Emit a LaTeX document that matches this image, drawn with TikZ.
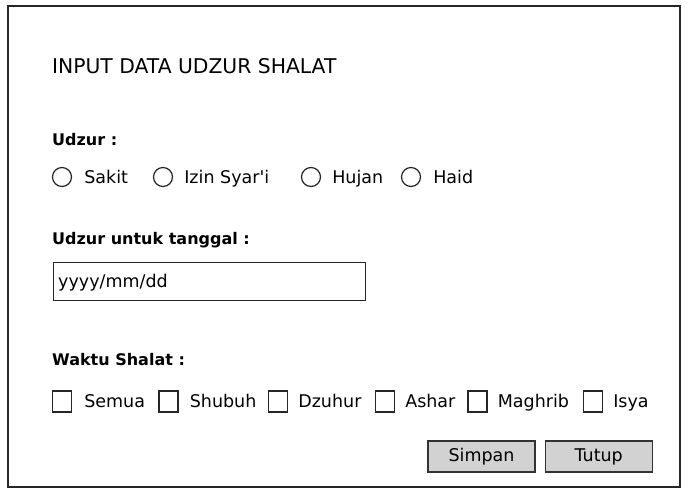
\documentclass[tikz,border=0pt]{standalone}
\usepackage{fontspec}
\setmainfont{DejaVu Sans}[Ligatures=TeXOff]
\usetikzlibrary{positioning}

\tikzset{
  frame/.style={draw=black!85, line width=1.5pt},
  judulteks/.style={anchor=west, inner sep=0pt, text height=14.6pt, text depth=0pt,
    font=\fontsize{20.3}{23}\selectfont},
  kepala/.style={anchor=west, inner sep=0pt, text height=11.7pt, text depth=0pt,
    font=\bfseries\fontsize{16}{19}\selectfont},
  pilihan/.style={anchor=west, inner sep=0pt, text height=12.8pt, text depth=0pt,
    font=\fontsize{17.5}{20}\selectfont},
  radio/.style={circle, draw=black!85, line width=1.2pt, minimum size=19pt, inner sep=0pt},
  centang/.style={rectangle, draw=black!85, line width=1.2pt, minimum width=19pt,
    minimum height=21pt, inner sep=0pt},
  isian/.style={rectangle, draw=black!85, line width=1.2pt, minimum width=312pt,
    minimum height=38pt, inner sep=0pt},
  tombol/.style={rectangle, draw=black!80, fill=gray!35, line width=1.2pt,
    minimum width=107pt, minimum height=31pt, inner sep=0pt,
    font=\fontsize{17.5}{20}\selectfont}
}

\begin{document}
\begin{tikzpicture}[x=1pt,y=-1pt]
    \useasboundingbox (0,0) rectangle (692,500);
    \draw[frame] (8,6) rectangle (680,487);
    \node[judulteks] (judul) at (52,66) {INPUT DATA UDZUR SHALAT};
    \node[kepala] (udzur) at (52,140) {Udzur :};
    \node[radio] (rsakit) at (62,177) {};
    \node[pilihan, right=12pt of rsakit] (tsakit) {Sakit};
    \node[radio] (rizin) at (163,177) {};
    \node[pilihan, right=11pt of rizin] (tizin) {Izin Syar'i};
    \node[radio] (rhujan) at (311,177) {};
    \node[pilihan, right=11pt of rhujan] (thujan) {Hujan};
    \node[radio] (rhaid) at (411,177) {};
    \node[pilihan, right=12pt of rhaid] (thaid) {Haid};
    \node[kepala] (tanggal) at (52,239) {Udzur untuk tanggal :};
    \node[isian, anchor=north west] (kotak) at (53,262) {};
    \node[pilihan] (format) at (58,281) {yyyy/mm/dd};
    \node[kepala] (waktu) at (52,359.5) {Waktu Shalat :};
    \node[centang] (csemua) at (62,401.5) {};
    \node[pilihan, right=12pt of csemua] (tsemua) {Semua};
    \node[centang] (cshubuh) at (168.5,401.5) {};
    \node[pilihan, right=11pt of cshubuh] (tshubuh) {Shubuh};
    \node[centang] (cdzuhur) at (278,401.5) {};
    \node[pilihan, right=10pt of cdzuhur] (tdzuhur) {Dzuhur};
    \node[centang] (cashar) at (385,401.5) {};
    \node[pilihan, right=10pt of cashar] (tashar) {Ashar};
    \node[centang] (cmaghrib) at (477.5,401.5) {};
    \node[pilihan, right=10pt of cmaghrib] (tmaghrib) {Maghrib};
    \node[centang] (cisya) at (593,401.5) {};
    \node[pilihan, right=10pt of cisya] (tisya) {Isya};
    \node[tombol] (simpan) at (481.5,456.5) {Simpan};
    \node[tombol, right=9pt of simpan] (tutup) {Tutup};
\end{tikzpicture}
\end{document}
